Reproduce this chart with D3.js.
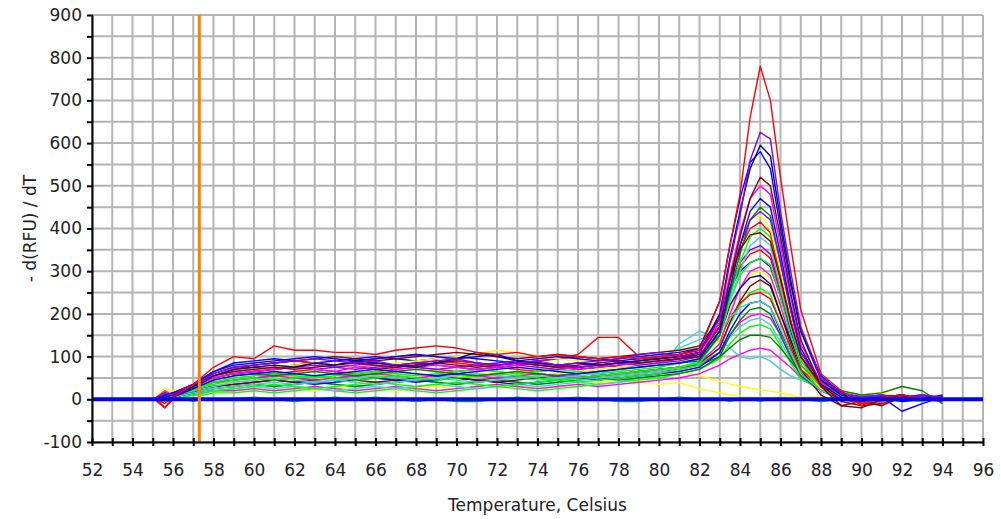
<!DOCTYPE html>
<html><head><meta charset="utf-8">
<script src="https://cdn.jsdelivr.net/npm/d3@7"></script>
<style>body{margin:0;background:#fff}svg{display:block}text{font-family:"DejaVu Sans",Verdana,sans-serif;fill:#222}</style>
</head><body><svg id="c" width="1001" height="519"></svg>
<script>
// Temperatures (°C) at which each melt curve is sampled
const temps = [55.2,55.6,56,56.5,57,57.5,58,59,60,61,62,63,64,65,66,67,68,69,70,71,72,73,74,75,76,77,78,79,80,81,82,83,83.5,84,84.5,85,85.5,86,86.5,87,88,89,90,91,92,93,94];
const xTicks = d3.range(52, 97, 1);
const xLabels = d3.range(52, 97, 2);
const yTicks = d3.range(-100, 901, 50);
const yLabels = d3.range(-100, 901, 100);
const thresholdTemp = 57.3;
const xTitle = "Temperature, Celsius";
const yTitle = "- d(RFU) / dT";

const seriesColors = ["#ff0000","#8000ff","#000080","#0000ff","#800000","#ff00ff","#0000ff","#008000","#ffff00","#ff0000","#00ff00","#40d0d0","#8000ff","#ff0000","#0000ff","#ff00ff","#ffff00","#000080","#800000","#00ff00","#ff0000","#0000ff","#008000","#ff00ff","#40d0d0","#00ff00","#008000","#ff00ff","#40d0d0","#ffff00","#ffff00","#00c000","#800000","#8000ff","#40d0d0","#00ff00"];

const s01 = [0,-20,5,20,35,55,75, 100,95,125,115,115,110,110,105,115,120,125,120,110,105,110,100,105,100,95,100,95,100,105,115, 230,360,480,660,780,700,520,360,210, 60,20,-15,5,10,0,5];
const s02 = [5,15,10,25,35,45,60, 75,80,85,90,95,90,85,90,80,85,90,95,85,80,85,90,80,85,90,95,105,110,100,110, 190,320,430,560,625,610,440,300,170, 50,15,5,10,0,10,5];
const s03 = [0,5,10,20,30,45,55, 70,75,80,75,85,80,90,85,80,75,85,95,110,100,90,85,80,85,80,85,90,95,100,110, 200,330,440,540,595,570,420,280,160, 45,10,0,5,10,0,5];
const s04 = [-5,10,15,25,35,50,65, 80,85,90,95,100,95,90,95,100,105,100,95,100,105,90,95,100,95,90,95,100,105,110,120, 230,360,470,555,580,540,400,270,160, 55,15,-5,5,10,0,10];
const s05 = [0,10,10,20,30,40,55, 65,70,75,70,75,80,85,80,75,80,85,80,75,80,85,80,75,80,85,90,85,90,95,100, 170,280,380,470,520,500,380,250,140, 30,-15,-20,0,5,10,0];
const s06 = [5,20,10,20,30,40,50, 60,65,70,75,70,65,75,80,70,75,80,75,70,75,80,85,75,70,75,80,85,90,95,100, 180,290,390,470,500,480,360,240,130, 40,10,5,0,5,10,0];
const s07 = [0,0,5,15,25,35,45, 55,60,65,60,55,60,65,70,65,60,55,60,65,70,75,70,65,60,65,70,75,80,85,95, 160,260,360,440,470,450,340,220,120, 35,5,0,5,-28,-10,5];
const s08 = [5,15,10,20,25,35,45, 55,60,55,60,65,60,55,60,65,70,65,60,55,60,65,60,55,60,65,70,75,80,85,90, 150,250,340,420,450,430,320,210,110, 40,20,10,15,30,20,-10];
const s09 = [10,25,20,25,30,40,50, 65,70,75,80,85,80,75,80,85,90,95,100,105,115,110,100,95,90,95,100,105,110,115,120, 200,300,370,420,430,400,300,200,110, 40,15,10,15,5,10,5];
const s10 = [0,-10,5,15,25,40,55, 70,80,85,90,85,80,90,95,100,105,100,90,85,80,85,90,95,105,145,145,100,95,100,110, 180,280,350,400,415,390,290,190,100, 30,0,-10,5,0,10,5];
const s11 = [0,5,10,15,20,30,35, 45,50,45,50,55,50,45,50,55,50,45,50,55,60,55,50,45,50,55,60,65,70,75,85, 150,240,320,380,400,380,280,180,90, 30,10,5,0,5,10,0];
const s12 = [0,10,5,10,15,20,25, 30,35,40,35,40,45,40,35,40,45,50,45,40,45,50,55,50,45,50,55,60,65,75,90, 150,230,300,360,380,360,260,170,90, 30,10,0,5,5,0,5];
const s13 = [5,15,10,20,30,40,50, 60,65,70,75,80,75,70,75,80,85,80,75,70,75,80,75,70,75,80,85,80,85,90,100, 160,250,320,350,360,340,260,170,90, 40,15,5,10,0,5,0];
const s14 = [-5,-20,0,15,30,45,55, 70,75,70,80,85,80,75,70,80,85,90,85,80,75,80,85,80,75,80,85,90,100,105,115, 170,250,310,340,350,330,250,170,100, 45,20,-10,-5,5,0,5];
const s15 = [0,5,10,20,35,50,65, 85,90,95,90,85,90,95,100,95,90,95,100,95,90,85,90,95,100,95,90,95,100,105,120, 190,260,300,320,330,310,240,160,90, 40,10,5,0,5,0,5];
const s16 = [5,10,15,20,25,30,40, 45,50,55,50,45,50,55,60,55,50,55,60,55,50,55,60,55,50,55,60,65,70,75,85, 130,200,260,300,310,290,220,140,80, 30,10,0,5,10,5,0];
const s17 = [10,20,15,20,25,30,35, 40,45,50,55,50,45,50,55,60,55,50,55,60,65,60,55,60,65,70,75,80,85,90,100, 140,210,260,290,300,285,210,140,80, 25,10,5,10,0,5,0];
const s18 = [0,5,10,15,25,40,50, 65,70,75,80,85,80,75,70,75,80,85,90,85,80,85,80,75,70,75,80,85,90,95,105, 150,220,260,285,290,270,200,140,80, 35,10,5,5,0,5,0];
const s19 = [0,5,10,15,20,25,30, 35,40,45,40,45,50,45,40,45,50,55,50,45,40,45,50,55,50,55,60,65,70,75,85, 120,180,230,265,280,265,200,130,70, 10,-15,-5,-15,5,10,0];
const s20 = [0,5,0,5,10,15,20, 25,30,35,30,25,30,35,40,35,30,35,40,35,30,35,40,45,40,45,50,55,60,70,80, 120,175,220,250,260,245,180,120,65, 25,5,0,5,0,-5,5];
const s21 = [0,10,15,20,30,40,50, 60,65,60,65,70,65,60,65,70,75,70,65,70,75,70,65,70,75,80,75,80,85,95,110, 140,190,225,245,250,235,180,120,70, 30,5,10,0,5,0,-5];
const s22 = [-5,0,5,10,15,25,30, 35,40,45,40,35,40,45,50,45,40,45,50,45,40,35,40,45,50,45,50,55,60,65,75, 110,160,200,225,230,215,160,110,60, 20,5,0,5,-5,0,5];
const s23 = [0,5,10,10,15,20,25, 30,35,30,35,40,35,30,35,40,45,40,35,40,45,40,35,40,45,50,45,50,55,60,70, 100,150,185,210,215,200,150,100,55, 20,0,-5,5,10,0,5];
const s24 = [5,10,5,10,15,25,35, 40,45,50,55,50,45,50,55,50,45,50,55,60,55,50,55,60,55,50,55,60,65,70,80, 110,150,180,195,200,190,150,100,60, 25,5,0,5,0,5,0];
const s25 = [0,5,10,10,15,20,20, 25,30,25,30,25,20,25,30,25,30,35,30,25,30,35,30,35,40,35,40,50,60,70,85, 110,145,170,185,190,175,135,95,60, 25,10,5,0,5,0,5];
const s26 = [0,-5,0,5,10,10,15, 15,20,15,20,25,20,15,20,25,20,15,20,25,30,25,20,25,30,35,40,45,50,60,70, 95,130,155,170,175,165,125,85,50, 20,5,0,5,0,5,0];
const s27 = [5,10,10,15,20,30,40, 45,50,55,50,45,50,55,50,45,50,55,50,45,50,55,60,55,50,55,60,65,70,75,80, 100,120,140,150,150,145,120,90,60, 30,10,0,5,0,5,0];
const s28 = [0,5,5,10,15,15,20, 20,25,20,25,30,25,20,25,30,25,20,25,30,35,30,25,30,35,30,35,40,45,50,60, 80,95,105,115,120,115,95,75,50, 20,5,0,5,0,5,0];
const s29 = [0,5,5,10,15,20,25, 30,35,30,35,40,35,30,35,40,45,40,35,40,45,40,35,40,45,50,55,60,70,130,160, 140,120,100,95,100,90,70,55,45, 30,15,10,5,0,5,0];
const s30 = [5,15,10,15,20,25,30, 35,40,45,50,55,60,55,60,65,70,65,60,55,60,65,70,75,70,65,70,65,60,65,55, 42,36,30,26,22,19,15,10,5, 5,0,5,0,5,0,5];
const s31 = [0,5,5,10,15,20,20, 20,25,20,25,20,25,30,25,20,25,30,25,30,35,30,25,30,35,40,45,40,35,39,25, 15,10,8,5,5,5,5,5,5, 5,0,5,0,5,0,0];
const s32 = [0,-5,0,0,-5,0,0, 0,5,0,-5,0,5,0,5,0,-5,0,-5,-5,0,5,0,0,5,0,-5,-5,0,5,0, 0,-5,0,0,-5,0,5,0,0, -5,0,5,0,-5,0,0];
const s33 = [0,10,15,25,35,50,60, 75,80,85,90,95,100,95,90,95,100,105,110,105,100,95,100,105,100,95,100,105,110,115,125, 190,280,350,385,390,370,280,180,100, 35,-5,-15,-10,5,0,5];
const s34 = [5,10,15,20,30,40,50, 60,65,70,75,70,75,80,85,80,75,70,75,80,85,90,85,80,75,80,85,90,95,100,110, 190,280,360,420,440,420,320,210,110, 40,15,5,10,5,0,5];
const s35 = [0,5,10,15,20,25,30, 40,45,50,45,40,45,50,55,50,45,50,55,60,55,50,45,50,55,60,70,80,95,120,140, 160,190,215,225,230,215,165,110,60, 20,5,0,5,0,5,0];
const s36 = [0,5,10,15,20,30,40, 50,55,60,55,50,55,60,65,60,55,60,65,70,65,60,65,70,65,60,65,70,75,85,95, 150,230,290,320,330,315,240,150,80, 30,10,5,0,5,0,0];

const series = [s32,s31,s30,s28,s26,s25,s29,s27,s24,s23,s22,s20,s19,s21,s17,s16,s18,s15,s36,s35,s14,s13,s12,s11,s10,s09,s08,s34,s07,s33,s06,s05,s04,s03,s02,s01];
const order = [31,30,29,27,25,24,28,26,23,22,21,19,18,20,16,15,17,14,35,34,13,12,11,10,9,8,7,33,6,32,5,4,3,2,1,0];

const svg = d3.select("#c");
const x = d3.scaleLinear().domain([52, 96]).range([92, 983]);
const y = d3.scaleLinear().domain([-100, 900]).range([442, 15]);

// grid
const g = svg.append("g");
g.selectAll(".vx").data(xTicks).join("line")
  .attr("x1", d => x(d)).attr("x2", d => x(d)).attr("y1", y(900)).attr("y2", y(-100))
  .attr("stroke", "#b4b4b4").attr("stroke-width", 2);
g.selectAll(".hy").data(yTicks).join("line")
  .attr("x1", x(52)).attr("x2", x(96)).attr("y1", d => y(d)).attr("y2", d => y(d))
  .attr("stroke", "#b4b4b4").attr("stroke-width", 2);

// curves
const line = d3.line().x((d, i) => x(temps[i])).y(d => y(d));
svg.append("g").selectAll("path").data(series).join("path")
  .attr("d", d => line(d))
  .attr("fill", "none")
  .attr("stroke", (d, i) => seriesColors[order[i]])
  .attr("stroke-width", 1.4)
  .attr("stroke-linejoin", "round");

// zero line & threshold
svg.append("line").attr("x1", x(52)).attr("x2", x(96)).attr("y1", y(0)).attr("y2", y(0))
  .attr("stroke", "#0000ff").attr("stroke-width", 4);
svg.append("line").attr("x1", x(thresholdTemp)).attr("x2", x(thresholdTemp)).attr("y1", y(900)).attr("y2", y(-100))
  .attr("stroke", "#ff8000").attr("stroke-width", 3);

// axes
const xAxis = svg.append("g").attr("transform", `translate(0,${y(-100)})`)
  .call(d3.axisBottom(x).tickValues(xTicks).tickSize(4).tickSizeOuter(0).tickFormat(d => xLabels.includes(d) ? d : ""));
xAxis.select(".domain").attr("stroke", "#000").attr("stroke-width", 2);
xAxis.selectAll(".tick line").attr("stroke", "#000").attr("stroke-width", 2).attr("y1", -4);
xAxis.selectAll(".tick text").attr("font-size", 17).attr("dy", "0").attr("y", 34).attr("fill", "#222").style("font-family", '"DejaVu Sans",sans-serif');

const yAxis = svg.append("g").attr("transform", `translate(${x(52)},0)`)
  .call(d3.axisLeft(y).tickValues(yTicks).tickSize(5).tickSizeOuter(0).tickFormat(d => yLabels.includes(d) ? d : ""));
yAxis.select(".domain").attr("stroke", "#000").attr("stroke-width", 2);
yAxis.selectAll(".tick line").attr("stroke", "#000").attr("stroke-width", 2).attr("x2", -5).attr("x1", 1);
yAxis.selectAll(".tick text").attr("font-size", 17).attr("x", -10).attr("fill", "#222").style("font-family", '"DejaVu Sans",sans-serif');

svg.append("text").attr("x", (x(52) + x(96)) / 2).attr("y", 511).attr("text-anchor", "middle")
  .attr("font-size", 17).text(xTitle);
svg.append("text").attr("transform", `translate(36,${(y(900) + y(-100)) / 2}) rotate(-90)`)
  .attr("text-anchor", "middle").attr("font-size", 17).text(yTitle);
</script></body></html>
